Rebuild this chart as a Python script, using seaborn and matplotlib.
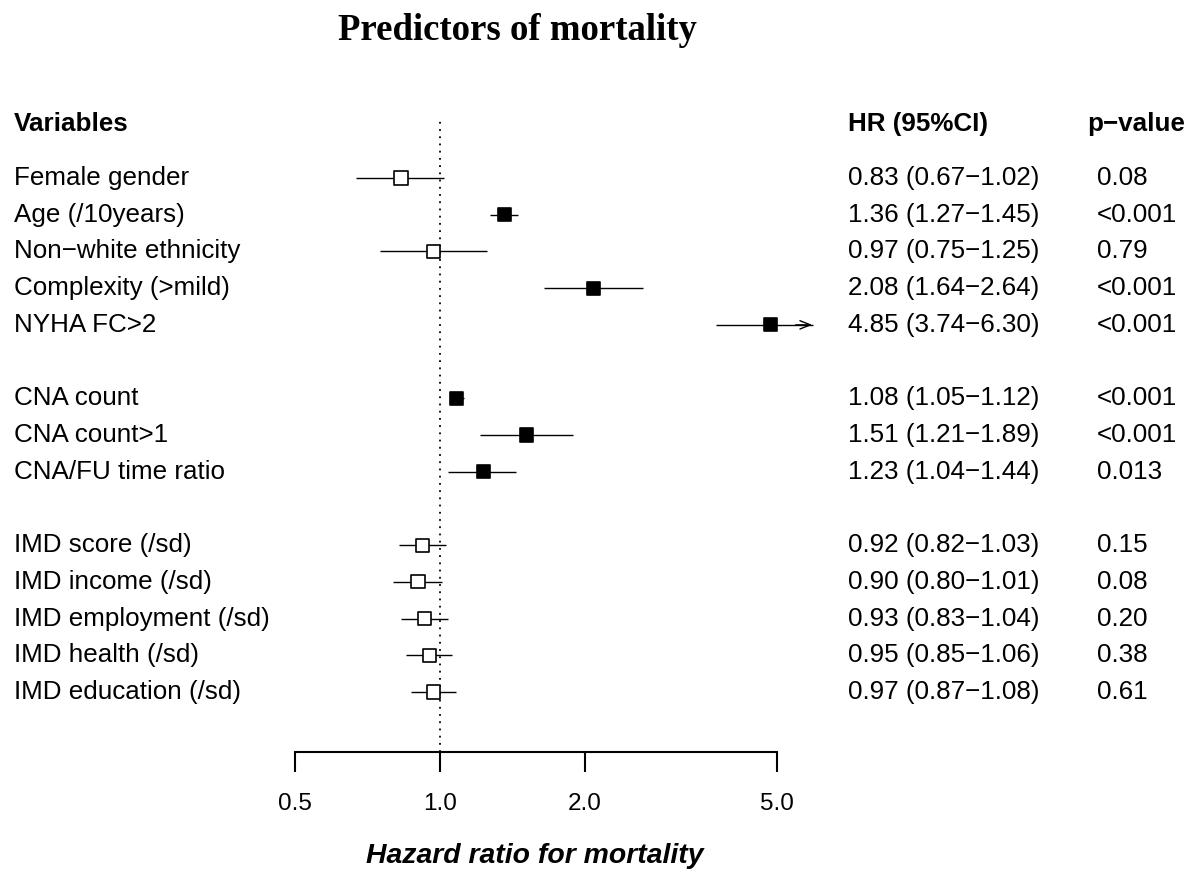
import numpy as np
import pandas as pd
import matplotlib
matplotlib.use("Agg")
import matplotlib.pyplot as plt
import matplotlib.transforms as mtransforms
import seaborn as sns

# data
variables = ["Female gender", "Age (/10years)", "Non\u2212white ethnicity", "Complexity (>mild)", "NYHA FC>2",
             "CNA count", "CNA count>1", "CNA/FU time ratio",
             "IMD score (/sd)", "IMD income (/sd)", "IMD employment (/sd)", "IMD health (/sd)", "IMD education (/sd)"]
group = [0, 0, 0, 0, 0, 1, 1, 1, 2, 2, 2, 2, 2]
hr = [0.83, 1.36, 0.97, 2.08, 4.85, 1.08, 1.51, 1.23, 0.92, 0.90, 0.93, 0.95, 0.97]
lower = [0.67, 1.27, 0.75, 1.64, 3.74, 1.05, 1.21, 1.04, 0.82, 0.80, 0.83, 0.85, 0.87]
upper = [1.02, 1.45, 1.25, 2.64, 6.30, 1.12, 1.89, 1.44, 1.03, 1.01, 1.04, 1.06, 1.08]
pvals = ["0.08", "<0.001", "0.79", "<0.001", "<0.001", "<0.001", "<0.001", "0.013",
         "0.15", "0.08", "0.20", "0.38", "0.61"]
significant = [False, True, False, True, True, True, True, True, False, False, False, False, False]
xticks = [0.5, 1.0, 2.0, 5.0]

df = pd.DataFrame({"variable": variables, "hr": hr, "lower": lower, "upper": upper,
                   "p": pvals, "sig": significant, "group": group})
df["row"] = np.arange(len(df)) + df["group"]  # blank row between groups

sns.set_style("white")
plt.rcParams["font.family"] = ["Liberation Sans", "DejaVu Sans"]
for key in ["text.color", "axes.labelcolor", "xtick.color", "axes.edgecolor"]:
    plt.rcParams[key] = "black"

W, H = 1195, 869
fig = plt.figure(figsize=(W / 100, H / 100), dpi=100)
ax = fig.add_axes([295 / W, 1 - 752 / H, (815 - 295) / W, (752 - 118) / H])

xmax = 6.0
ax.set_xscale("log")
ax.set_xlim(0.5, xmax)
ax.set_ylim(15.634, -1.634)

ax.axvline(1.0, color="black", linestyle=(0, (1, 3)), linewidth=1.3, zorder=1)

for _, r in df.iterrows():
    if r["upper"] > xmax:
        ax.hlines(r["row"], r["lower"], xmax * 0.99, color="black", linewidth=1, zorder=2)
        ax.annotate("", xy=(xmax, r["row"]), xytext=(xmax * 0.9, r["row"]),
                    arrowprops=dict(arrowstyle="->,head_length=0.75,head_width=0.3", color="black", lw=1))
    else:
        ax.hlines(r["row"], r["lower"], r["upper"], color="black", linewidth=1, zorder=2)

sns.scatterplot(data=df, x="hr", y="row", hue="sig", palette={True: "black", False: "white"},
                marker="s", s=90, edgecolor="black", linewidth=1.2, legend=False, ax=ax, zorder=3)

for side in ["top", "right", "left"]:
    ax.spines[side].set_visible(False)
ax.spines["bottom"].set_linewidth(1.5)
ax.spines["bottom"].set_bounds(0.5, 5.0)
ax.set_yticks([])
ax.set_xticks(xticks)
ax.set_xticklabels(["%.1f" % t for t in xticks])
ax.xaxis.set_minor_locator(matplotlib.ticker.NullLocator())
ax.tick_params(axis="x", direction="out", length=14.5, width=1.5, labelsize=17.5, pad=15, bottom=True)
ax.set_xlabel("Hazard ratio for mortality", fontsize=20.4, fontweight="bold", style="italic", labelpad=20)
ax.xaxis.label.set_x((535 - 295) / (815 - 295))
ax.set_ylabel("")

trans = mtransforms.blended_transform_factory(fig.transFigure, ax.transData)
fs = 18.7
head_row = -1.47
ax.text(14 / W, head_row, "Variables", transform=trans, fontsize=fs, fontweight="bold", va="center", ha="left")
ax.text(848 / W, head_row, "HR (95%CI)", transform=trans, fontsize=fs, fontweight="bold", va="center", ha="left")
ax.text(1087 / W, head_row, "p\u2212value", transform=trans, fontsize=fs, fontweight="bold", va="center", ha="left")

for _, r in df.iterrows():
    ax.text(14 / W, r["row"], r["variable"], transform=trans, fontsize=fs, va="center", ha="left")
    ci = "%.2f (%.2f\u2212%.2f)" % (r["hr"], r["lower"], r["upper"])
    ax.text(848 / W, r["row"], ci, transform=trans, fontsize=fs, va="center", ha="left")
    ax.text(1097 / W, r["row"], r["p"], transform=trans, fontsize=fs, va="center", ha="left")

fig.text(517 / W, 1 - 31 / H, "Predictors of mortality", fontsize=26.5, fontweight="bold",
         family=["Liberation Serif", "DejaVu Serif"], ha="center", va="center")

fig.savefig("out.png", dpi=100)
